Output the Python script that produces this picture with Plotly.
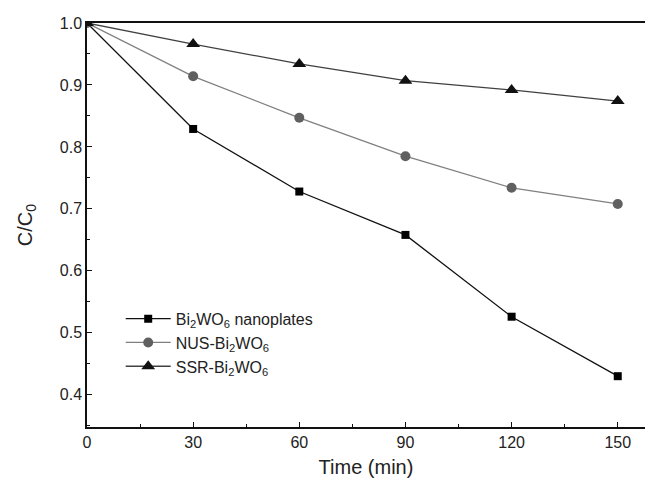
import plotly.graph_objects as go

time_min = [0, 30, 60, 90, 120, 150]
nanoplates = [1.0, 0.829, 0.728, 0.658, 0.526, 0.430]
nus = [1.0, 0.914, 0.847, 0.785, 0.734, 0.708]
ssr = [1.0, 0.966, 0.934, 0.907, 0.892, 0.874]

names = ["Bi<sub>2</sub>WO<sub>6</sub> nanoplates",
         "NUS-Bi<sub>2</sub>WO<sub>6</sub>",
         "SSR-Bi<sub>2</sub>WO<sub>6</sub>"]

FONT = "Arial, Liberation Sans, sans-serif"

fig = go.Figure()
fig.add_trace(go.Scatter(
    x=time_min, y=nanoplates, name=names[0], mode="lines+markers",
    line=dict(color="#111111", width=1.3),
    marker=dict(symbol="square", size=8, color="#000000")))
fig.add_trace(go.Scatter(
    x=time_min, y=nus, name=names[1], mode="lines+markers",
    line=dict(color="#808080", width=1.3),
    marker=dict(symbol="circle", size=10, color="#606060")))
fig.add_trace(go.Scatter(
    x=time_min, y=ssr, name=names[2], mode="lines+markers",
    line=dict(color="#404040", width=1.3),
    marker=dict(symbol="triangle-up", size=12, color="#111111")))

fig.update_layout(
    width=645, height=481,
    margin=dict(l=87, r=0, t=23, b=54),
    paper_bgcolor="white", plot_bgcolor="white",
    font=dict(family=FONT, size=16, color="#222222"),
    showlegend=True,
    legend=dict(x=0.0604, y=0.31, xanchor="left", yanchor="top",
                bgcolor="rgba(0,0,0,0)", font=dict(size=16, family=FONT),
                itemwidth=45, tracegroupgap=0),
)
fig.update_xaxes(
    range=[0, 157.7], tickvals=[0, 30, 60, 90, 120, 150],
    showgrid=False, zeroline=False,
    showline=True, linecolor="#111111", linewidth=1.5, mirror=True,
    ticks="inside", ticklen=5, tickwidth=1.2, tickcolor="#111111",
    minor=dict(ticks="inside", ticklen=3, tickwidth=1.2, dtick=15, tick0=0, tickcolor="#111111"),
    tickfont=dict(size=16, family=FONT),
    title=dict(text="Time (min)", font=dict(size=20, family=FONT), standoff=10),
)
fig.update_yaxes(
    range=[0.348, 1.0], tickvals=[0.4, 0.5, 0.6, 0.7, 0.8, 0.9, 1.0],
    ticktext=["0.4", "0.5", "0.6", "0.7", "0.8", "0.9", "1.0"],
    showgrid=False, zeroline=False,
    showline=True, linecolor="#111111", linewidth=1.5,
    ticks="inside", ticklen=5, tickwidth=1.2, tickcolor="#111111",
    minor=dict(ticks="inside", ticklen=3, tickwidth=1.2, dtick=0.05, tick0=0.35, tickcolor="#111111"),
    tickfont=dict(size=16, family=FONT),
    title=dict(text="C/C<sub>0</sub>", font=dict(size=20, family=FONT), standoff=22),
)

fig.write_html("out.html", config={"displayModeBar": False},
               post_script="document.body.style.margin='0';")
